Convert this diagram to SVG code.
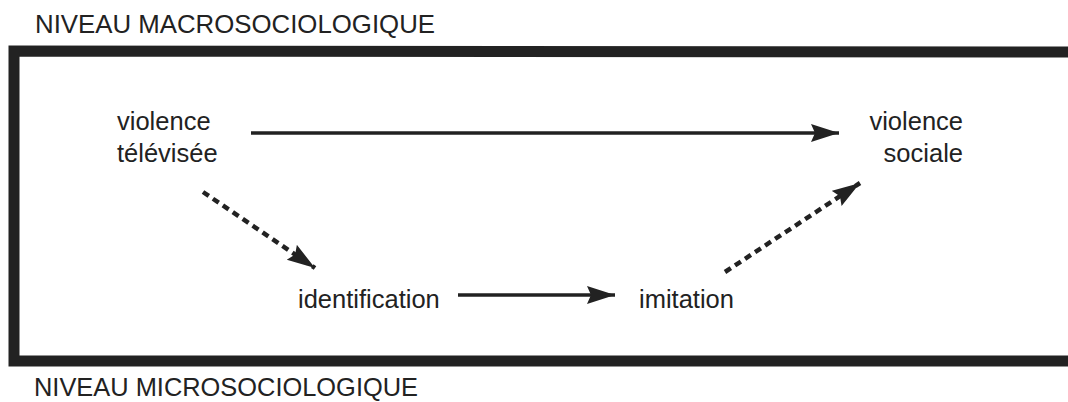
<svg xmlns="http://www.w3.org/2000/svg" width="1068" height="402" viewBox="0 0 1068 402">
<style>
text{font-family:"Liberation Sans",Arial,sans-serif;font-size:25.5px;fill:#222}
.solid{stroke:#222;stroke-width:3.5;fill:none}
.dash{stroke:#222;stroke-width:4.5;fill:none;stroke-dasharray:7 5}
</style>
<defs>
<marker id="ah" markerUnits="userSpaceOnUse" markerWidth="30" markerHeight="20" refX="28" refY="9" orient="auto" viewBox="0 0 30 20">
<path d="M0,0 L28,9 L0,18 L4,9 z" fill="#222"/>
</marker>
</defs>
<rect x="0" y="0" width="1068" height="402" fill="#fff"/>
<text x="35" y="33" textLength="400" lengthAdjust="spacingAndGlyphs">NIVEAU MACROSOCIOLOGIQUE</text>
<text x="34" y="396" textLength="384" lengthAdjust="spacingAndGlyphs">NIVEAU MICROSOCIOLOGIQUE</text>
<path d="M1080,52 L14,51 L14,361 L1080,361" fill="none" stroke="#222" stroke-width="11"/>
<g id="n1"><text x="117" y="130">violence</text><text x="117" y="162">télévisée</text></g>
<g id="n2"><text x="963" y="130" text-anchor="end">violence</text><text x="963" y="162" text-anchor="end">sociale</text></g>
<g id="n3"><text x="298" y="308">identification</text></g>
<g id="n4"><text x="639" y="308">imitation</text></g>
<g id="edges">
<line class="solid" x1="251" y1="133" x2="839" y2="133" marker-end="url(#ah)"/>
<line class="solid" x1="458" y1="295" x2="615" y2="295" marker-end="url(#ah)"/>
<line class="dash" x1="203" y1="192" x2="315" y2="268" marker-end="url(#ah)"/>
<line class="dash" x1="725" y1="272" x2="860" y2="183" marker-end="url(#ah)"/>
</g>
</svg>
